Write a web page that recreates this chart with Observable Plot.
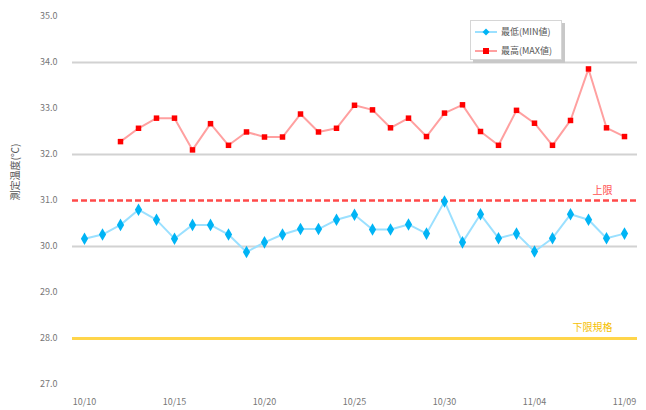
<!DOCTYPE html>
<html>
<head>
<meta charset="utf-8">
<script src="https://cdn.jsdelivr.net/npm/d3@7"></script>
<script src="https://cdn.jsdelivr.net/npm/@observablehq/plot@0.6"></script>
<style>
  body { margin: 0; background: #fff; }
  #wrap { position: relative; width: 646px; height: 410px; font-family: "Noto Sans CJK JP", "Noto Sans", sans-serif; }
  #legend { position: absolute; left: 470px; top: 20px; width: 90px; height: 38px; background: #fff;
            border: 1px solid #d6d6d6; box-shadow: 3px 3px 0 #c8c8c8; font-size: 9px; color: #555; }
  .item { display: flex; align-items: center; height: 17px; margin-top: 2px; }
  .item svg { margin-left: 4px; margin-right: 4px; }
</style>
</head>
<body>
<div id="wrap"></div>
<script>
const dates = ["10/10","10/11","10/12","10/13","10/14","10/15","10/16","10/17","10/18","10/19",
  "10/20","10/21","10/22","10/23","10/24","10/25","10/26","10/27","10/28","10/29",
  "10/30","10/31","11/01","11/02","11/03","11/04","11/05","11/06","11/07","11/08","11/09"];
const xTickLabels = ["10/10","10/15","10/20","10/25","10/30","11/04","11/09"];
const minValues = [30.17,30.26,30.47,30.80,30.58,30.17,30.47,30.47,30.26,29.88,
  30.09,30.26,30.38,30.38,30.58,30.69,30.37,30.37,30.48,30.28,
  30.98,30.09,30.70,30.18,30.28,29.89,30.18,30.70,30.58,30.18,30.28];
const maxDates = dates.slice(2);
const maxValues = [32.28,32.57,32.79,32.79,32.10,32.67,32.20,32.49,32.38,32.38,
  32.88,32.49,32.57,33.07,32.97,32.58,32.79,32.39,32.90,33.08,
  32.50,32.20,32.96,32.68,32.20,32.74,33.86,32.58,32.39];
const yTicks = [27,28,29,30,31,32,33,34,35];
const gridValues = [30,32,34];
const upperLimit = 31;
const lowerLimit = 28;
const seriesNames = ["最低(MIN値)","最高(MAX値)"];
const upperLabel = "上限";
const lowerLabel = "下限規格";
const yTitle = "測定温度(℃)";

const minData = dates.map((d, i) => ({date: d, value: minValues[i]}));
const maxData = maxDates.map((d, i) => ({date: d, value: maxValues[i]}));

const chart = Plot.plot({
  width: 646, height: 410,
  marginLeft: 72, marginRight: 9, marginTop: 16, marginBottom: 26,
  style: {fontFamily: '"Noto Sans CJK JP", "Noto Sans", sans-serif', fontSize: "9px", color: "#777", background: "transparent"},
  x: {type: "point", domain: dates, padding: 0, insetLeft: 10, insetRight: 12},
  y: {domain: [27, 35]},
  marks: [
    Plot.ruleY(gridValues, {stroke: "#d2d2d2", strokeWidth: 2}),
    Plot.ruleY([lowerLimit], {stroke: "#ffd54a", strokeWidth: 3}),
    Plot.ruleY([upperLimit], {stroke: "#ff4a4a", strokeWidth: 2.5, strokeDasharray: "6,3"}),
    Plot.axisY({ticks: yTicks, tickSize: 0, tickPadding: 15, tickFormat: d3.format(".1f"), label: null}),
    Plot.axisX({ticks: xTickLabels, tickSize: 0, tickPadding: 14, label: null}),
    Plot.text([yTitle], {frameAnchor: "left", dx: -57, rotate: -90, fill: "#555", fontSize: 10}),
    Plot.text([upperLabel], {frameAnchor: "right", y: [upperLimit], dx: -25, dy: -10, textAnchor: "end", fill: "#ff5050", fontSize: 10}),
    Plot.text([lowerLabel], {frameAnchor: "right", y: [lowerLimit], dx: -25, dy: -11, textAnchor: "end", fill: "#f5c000", fontSize: 10}),
    Plot.line(minData, {x: "date", y: "value", stroke: "#9be0ff", strokeWidth: 2}),
    Plot.dot(minData, {x: "date", y: "value", symbol: "diamond", r: 3.8, fill: "#00b4f5", stroke: "none"}),
    Plot.line(maxData, {x: "date", y: "value", stroke: "#ffa0a0", strokeWidth: 2}),
    Plot.dot(maxData, {x: "date", y: "value", symbol: "square", r: 3.1, fill: "#ff0000", stroke: "none"})
  ]
});

const wrap = document.getElementById("wrap");
wrap.appendChild(chart);

const legend = document.createElement("div");
legend.id = "legend";
legend.innerHTML = `
  <div class="item"><svg width="22" height="10"><line x1="0" y1="5" x2="22" y2="5" stroke="#9be0ff" stroke-width="2"/><path d="M11,1.5 L14.5,5 L11,8.5 L7.5,5Z" fill="#00b4f5"/></svg><span>${seriesNames[0]}</span></div>
  <div class="item"><svg width="22" height="10"><line x1="0" y1="5" x2="22" y2="5" stroke="#ffa0a0" stroke-width="2"/><rect x="8" y="2" width="6" height="6" fill="#ff0000"/></svg><span>${seriesNames[1]}</span></div>`;
wrap.appendChild(legend);
</script>
</body>
</html>
